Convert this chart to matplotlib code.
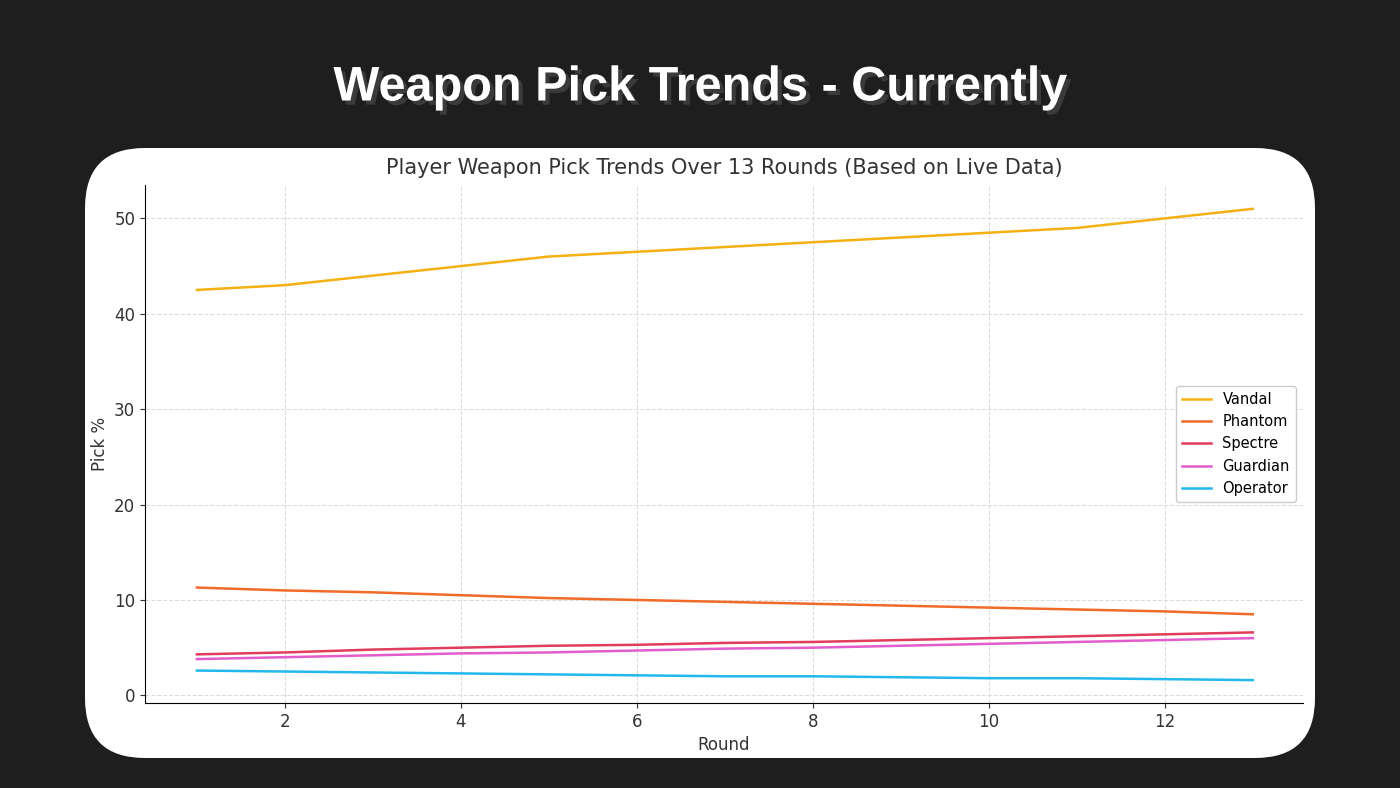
import matplotlib
matplotlib.use("Agg")
import matplotlib.pyplot as plt
from matplotlib.patches import FancyBboxPatch
import matplotlib.patheffects as pe

rounds = list(range(1, 14))
vandal = [42.5, 43, 44, 45, 46, 46.5, 47, 47.5, 48, 48.5, 49, 50, 51]
phantom = [11.3, 11.0, 10.8, 10.5, 10.2, 10.0, 9.8, 9.6, 9.4, 9.2, 9.0, 8.8, 8.5]
spectre = [4.3, 4.5, 4.8, 5.0, 5.2, 5.3, 5.5, 5.6, 5.8, 6.0, 6.2, 6.4, 6.6]
guardian = [3.8, 4.0, 4.2, 4.4, 4.5, 4.7, 4.9, 5.0, 5.2, 5.4, 5.6, 5.8, 6.0]
operator = [2.6, 2.5, 2.4, 2.3, 2.2, 2.1, 2.0, 2.0, 1.9, 1.8, 1.8, 1.7, 1.6]
names = ["Vandal", "Phantom", "Spectre", "Guardian", "Operator"]
colors = ["#f5b014", "#f06a28", "#e23c5c", "#e25ccc", "#22b8ee"]

W, H = 1400, 788
fig = plt.figure(figsize=(14, 7.88), dpi=100)
fig.patch.set_facecolor("#1e1e1e")
bg = fig.add_axes([0, 0, 1, 1]); bg.set_axis_off()
bg.set_xlim(0, W); bg.set_ylim(H, 0)
bg.add_patch(FancyBboxPatch((85 + 60, 148 + 60), 1230 - 120, 610 - 120,
                            boxstyle="round,pad=60", fc="white", ec="none"))
bg.text(700, 88, "Weapon Pick Trends - Currently", color="white", fontsize=35,
        fontweight="bold", ha="center", va="center", family="Liberation Sans",
        path_effects=[pe.withSimplePatchShadow(offset=(3, -3), alpha=0.6)])

ax = fig.add_axes([145 / W, 1 - 703 / H, (1303 - 145) / W, (703 - 185) / H])
ax.set_facecolor("white")
for n, c, d in zip(names, colors, [vandal, phantom, spectre, guardian, operator]):
    ax.plot(rounds, d, color=c, lw=1.8, label=n)
ax.set_xlim(0.41, 13.57)
ax.set_ylim(-0.8, 53.5)
ax.set_xticks([2, 4, 6, 8, 10, 12])
ax.set_yticks([0, 10, 20, 30, 40, 50])
ax.grid(True, ls="--", color="#dddddd", lw=0.8)
for s in ["top", "right"]:
    ax.spines[s].set_visible(False)
ax.tick_params(labelsize=12, colors="#333333")
ax.set_xlabel("Round", fontsize=12, color="#333333")
ax.set_ylabel("Pick %", fontsize=12, color="#333333")
ax.set_title("Player Weapon Pick Trends Over 13 Rounds (Based on Live Data)",
             fontsize=15, color="#333333", pad=8)
ax.legend(loc="center right", fontsize=10.5, framealpha=1, edgecolor="#cccccc")
fig.savefig("out.png", dpi=100, facecolor=fig.get_facecolor())
